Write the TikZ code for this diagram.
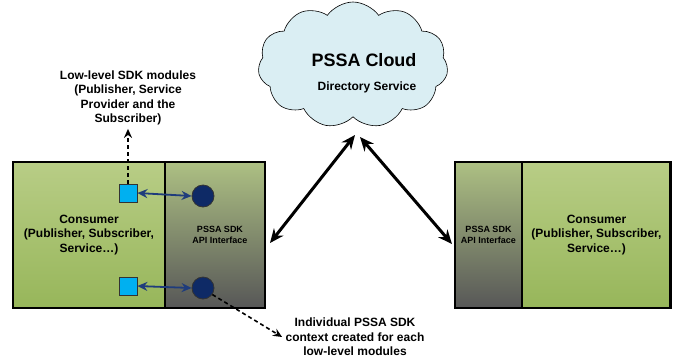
\documentclass[tikz,border=0pt]{standalone}
\usepackage{fontspec}
\setmainfont{Liberation Sans}
\usetikzlibrary{shapes.symbols,arrows.meta}
\definecolor{cloudblue}{HTML}{DAEEF3}
\definecolor{greentop}{HTML}{B8CD86}
\definecolor{greenbot}{HTML}{97B65A}
\definecolor{sdktop}{HTML}{ADC083}
\definecolor{sdkbot}{HTML}{575757}
\definecolor{modcyan}{HTML}{00B0F0}
\definecolor{ctxnavy}{HTML}{0E2A66}
\definecolor{linkblue}{HTML}{1F3C7C}

\tikzset{
  consumer/.style={top color=greentop, bottom color=greenbot, minimum height=146pt, align=center, inner sep=0pt, font=\bfseries\fontsize{12}{14.5}\selectfont},
  sdk/.style={top color=sdktop, bottom color=sdkbot, minimum height=146pt, align=center, inner sep=0pt, font=\bfseries\fontsize{9}{11}\selectfont},
  sdktext/.style={align=center, inner sep=0pt, font=\bfseries\fontsize{9}{11}\selectfont},
  module/.style={draw=black!80, fill=modcyan, minimum size=18pt, inner sep=0pt, line width=0.8pt},
  context/.style={circle, draw=black!80, fill=ctxnavy, minimum size=22pt, inner sep=0pt, line width=0.8pt},
  note/.style={align=center, font=\bfseries\fontsize{12}{14.5}\selectfont},
  link/.style={linkblue, line width=1.8pt, {Stealth[length=10pt,width=9pt]}-{Stealth[length=10pt,width=9pt]}},
  pointer/.style={black, line width=1.6pt, dash pattern=on 4pt off 3pt, -{Stealth[length=9pt,width=8pt]}},
  channel/.style={black, line width=3pt, {Stealth[length=14pt,width=12pt]}-{Stealth[length=14pt,width=12pt]}}
}

\begin{document}
\begin{tikzpicture}[x=1pt,y=-1pt]
  \useasboundingbox (0,0) rectangle (675,360);

  % cloud
  \node[cloud, cloud puffs=11, cloud puff arc=110, fill=cloudblue, draw, line width=0.6pt,
        minimum width=190pt, minimum height=126pt, cloud ignores aspect] (cloud) at (353,65) {};
  \node[font=\bfseries\fontsize{18}{20}\selectfont] (cloudname) at (364,60) {PSSA Cloud};
  \node[font=\bfseries\fontsize{12}{14}\selectfont] (dirsvc) at (367,87) {Directory Service};

  % left consumer
  \node[consumer, minimum width=152pt] (consumerL) at (89,235) {Consumer\\(Publisher, Subscriber,\\Service…)};
  \node[sdk, minimum width=100pt] (sdkL) at (215,235) {};
  \node[sdktext] (sdkLtext) at (220,235) {PSSA SDK\\API Interface};
  \draw[line width=2.5pt] (consumerL.north west) rectangle (sdkL.south east);
  \draw[line width=1.5pt] (consumerL.north east) -- (consumerL.south east);

  % right consumer
  \node[sdk, minimum width=67pt] (sdkR) at (488.5,235) {PSSA SDK\\API Interface};
  \node[consumer, minimum width=148pt] (consumerR) at (596.5,235) {Consumer\\(Publisher, Subscriber,\\Service…)};
  \draw[line width=2.5pt] (sdkR.north west) rectangle (consumerR.south east);
  \draw[line width=1.5pt] (sdkR.north east) -- (sdkR.south east);

  % modules and contexts
  \node[module] (modA) at (128,193) {};
  \node[module] (modB) at (128,286) {};
  \node[context] (ctxA) at (203,196) {};
  \node[context] (ctxB) at (203,288) {};
  \draw[link] (modA.east) -- (ctxA.west);
  \draw[link] (modB.east) -- (ctxB.west);

  % notes
  \node[note] (modnote) at (128,98) {Low-level SDK modules\\(Publisher, Service\\Provider and the\\Subscriber)};
  \node[note] (ctxnote) at (355,337) {Individual PSSA SDK\\context created for each\\low-level modules};
  \draw[pointer] (modA.north) -- (modnote.south);
  \draw[pointer] (ctxB.-35) -- (ctxnote.west);

  % links to the cloud
  \coordinate (upL) at (355,135);
  \coordinate (downL) at (270,243);
  \coordinate (upR) at (360,137);
  \coordinate (downR) at (452,244);
  \draw[channel] (upL) -- (downL);
  \draw[channel] (upR) -- (downR);
\end{tikzpicture}
\end{document}
